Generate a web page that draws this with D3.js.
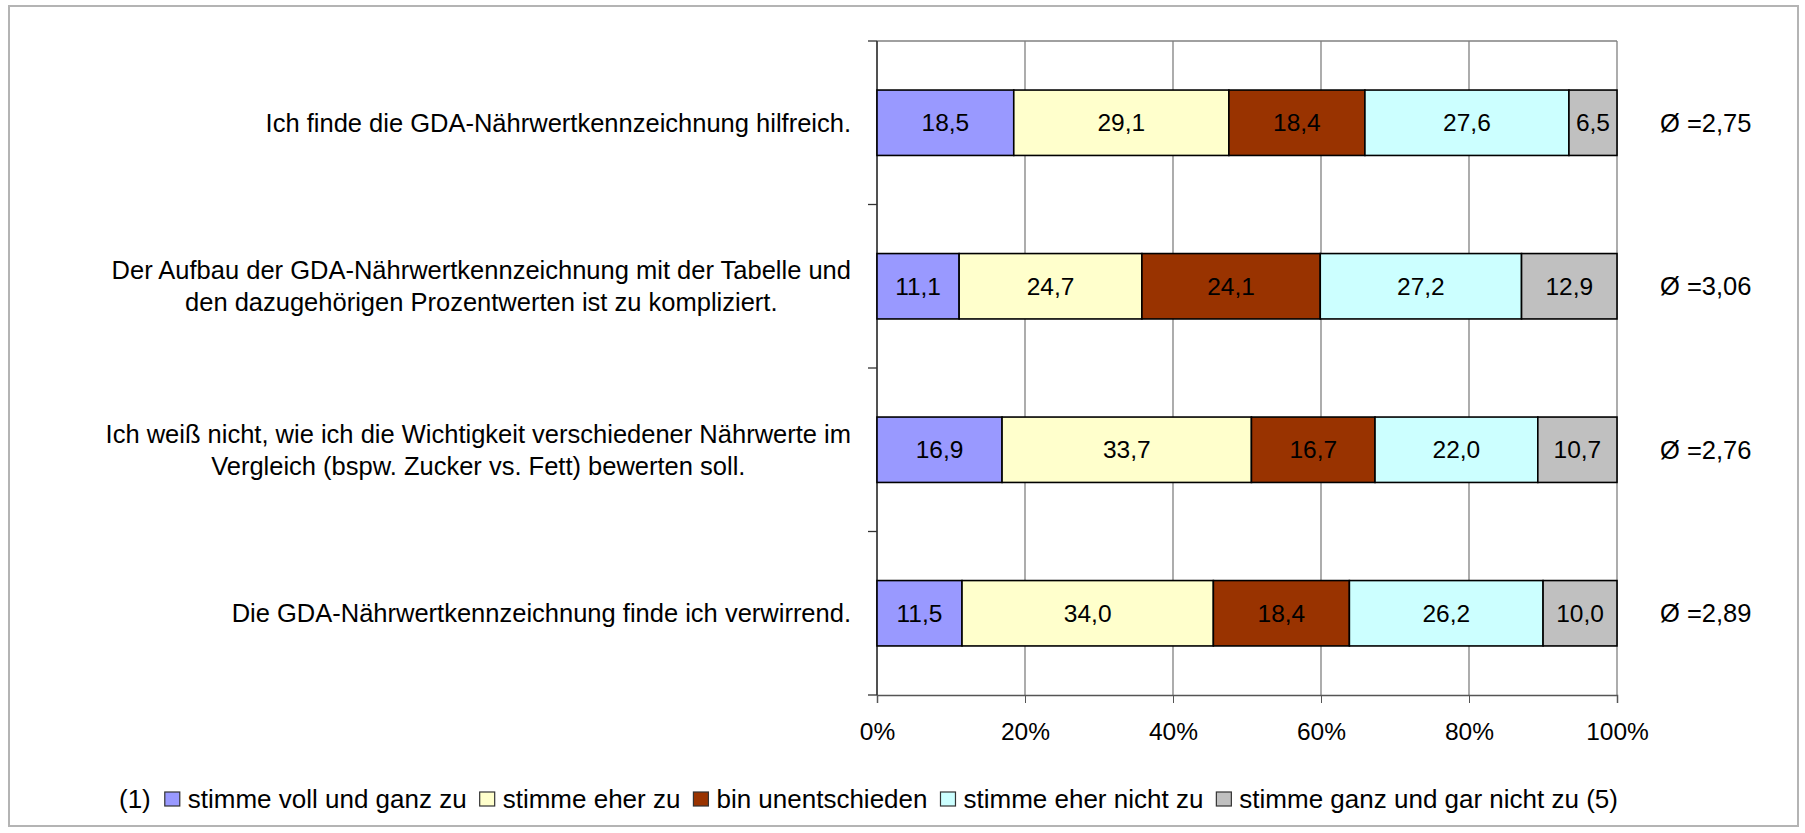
<!DOCTYPE html>
<html>
<head>
<meta charset="utf-8">
<script src="https://cdn.jsdelivr.net/npm/d3@7"></script>
<style>
  body { margin: 0; background: #fff; }
  svg text { font-family: Arial, "Liberation Sans", sans-serif; fill: #000; }
</style>
</head>
<body>
<div class="main"></div>
<script>
// questions (top to bottom), each may wrap into two lines
let questions = [
  ['Ich finde die GDA-Nährwertkennzeichnung hilfreich.'],
  ['Der Aufbau der GDA-Nährwertkennzeichnung mit der Tabelle und', 'den dazugehörigen Prozentwerten ist zu kompliziert.'],
  ['Ich weiß nicht, wie ich die Wichtigkeit verschiedener Nährwerte im', 'Vergleich (bspw. Zucker vs. Fett) bewerten soll.'],
  ['Die GDA-Nährwertkennzeichnung finde ich verwirrend.']
];
let answers = ['stimme voll und ganz zu', 'stimme eher zu', 'bin unentschieden', 'stimme eher nicht zu', 'stimme ganz und gar nicht zu'];
let colors = ['#9999ff', '#ffffcc', '#993300', '#ccffff', '#c0c0c0'];

let voll = [18.5, 11.1, 16.9, 11.5];
let eher = [29.1, 24.7, 33.7, 34.0];
let unent = [18.4, 24.1, 16.7, 18.4];
let eherNicht = [27.6, 27.2, 22.0, 26.2];
let garNicht = [6.5, 12.9, 10.7, 10.0];
let means = [2.75, 3.06, 2.76, 2.89];
let ticks = [0, 0.2, 0.4, 0.6, 0.8, 1];

let W = 1805, H = 833;
let margin = {left: 877, right: 188, top: 41, bottom: 138};
let fs = '24.5px';
let fsText = '25.5px';

let svg = d3.select('.main').append('svg')
  .attr('width', W)
  .attr('height', H);

// outer frame
svg.append('rect')
  .attr('x', 9).attr('y', 6)
  .attr('width', 1789).attr('height', 820)
  .attr('fill', 'none')
  .attr('stroke', '#b4b4b4')
  .attr('stroke-width', 2);

let rows = questions.map((q, i) => ({
  id: i,
  a0: voll[i], a1: eher[i], a2: unent[i], a3: eherNicht[i], a4: garNicht[i]
}));
let keys = ['a0', 'a1', 'a2', 'a3', 'a4'];

let x = d3.scaleLinear().domain([0, 1]).range([margin.left, W - margin.right]);
let y = d3.scaleBand().domain(rows.map(d => d.id))
  .range([margin.top, H - margin.bottom])
  .paddingInner(0.6).paddingOuter(0.3);

let stacked = d3.stack().keys(keys).offset(d3.stackOffsetExpand)(rows);

// gridlines
svg.append('g').selectAll('line').data(ticks).enter().append('line')
  .attr('x1', d => x(d)).attr('x2', d => x(d))
  .attr('y1', margin.top).attr('y2', H - margin.bottom)
  .attr('stroke', '#808080').attr('stroke-width', 1.3);
svg.append('line')
  .attr('x1', x(0)).attr('x2', x(1))
  .attr('y1', margin.top).attr('y2', margin.top)
  .attr('stroke', '#808080').attr('stroke-width', 1.3);

// bottom axis
let xAxis = svg.append('g')
  .attr('transform', `translate(0,${H - margin.bottom})`)
  .call(d3.axisBottom(x).tickValues(ticks).tickFormat(d3.format('.0%')).tickSizeOuter(0).tickSize(8).tickPadding(20));
xAxis.select('.domain').attr('stroke', '#555').attr('stroke-width', 1.5);
xAxis.selectAll('.tick line').attr('stroke', '#555');
xAxis.selectAll('text').style('font-size', fs).attr('fill', '#000');

// left axis with ticks between categories
let bounds = [0, 1, 2, 3, 4].map(i => margin.top + i * y.step());
svg.append('line')
  .attr('x1', x(0)).attr('x2', x(0))
  .attr('y1', margin.top).attr('y2', H - margin.bottom)
  .attr('stroke', '#333').attr('stroke-width', 1.5);
svg.append('g').selectAll('line').data(bounds).enter().append('line')
  .attr('x1', x(0) - 9).attr('x2', x(0))
  .attr('y1', d => d).attr('y2', d => d)
  .attr('stroke', '#333').attr('stroke-width', 1.3);

// bars
let series = svg.append('g').selectAll('g').data(stacked).enter().append('g')
  .attr('fill', (d, i) => colors[i]);
series.selectAll('rect').data(d => d).enter().append('rect')
  .attr('x', d => x(d[0]))
  .attr('y', d => y(d.data.id))
  .attr('width', d => x(d[1]) - x(d[0]))
  .attr('height', y.bandwidth())
  .attr('stroke', '#000')
  .attr('stroke-width', 1.6);

let fmt = v => d3.format('.1f')(v).replace('.', ',');
series.each(function(s) {
  d3.select(this).selectAll('text').data(s).enter().append('text')
    .attr('x', d => (x(d[0]) + x(d[1])) / 2)
    .attr('y', d => y(d.data.id) + y.bandwidth() / 2)
    .attr('dy', '0.35em')
    .attr('text-anchor', 'middle')
    .style('font-size', fs)
    .text(d => fmt(d.data[s.key]));
});

// category labels: block right-aligned, lines centred inside the block
let labelRight = 851;
let labels = svg.append('g').selectAll('text').data(questions).enter().append('text')
  .attr('text-anchor', 'middle')
  .style('font-size', fsText)
  .attr('transform', (d, i) => `translate(0,${y(i) + y.bandwidth() / 2})`);
labels.selectAll('tspan').data(d => d.map((t, j) => ({t: t, j: j, n: d.length}))).enter().append('tspan')
  .attr('y', d => (d.j - (d.n - 1) / 2) * 32)
  .attr('dy', '0.35em')
  .text(d => d.t);
labels.each(function() {
  let spans = d3.select(this).selectAll('tspan');
  let widest = d3.max(spans.nodes(), n => n.getComputedTextLength());
  spans.attr('x', labelRight - widest / 2);
});

// means
svg.append('g').selectAll('text').data(means).enter().append('text')
  .attr('x', 1660)
  .attr('y', (d, i) => y(i) + y.bandwidth() / 2)
  .attr('dy', '0.35em')
  .style('font-size', fsText)
  .text(d => 'Ø =' + d3.format('.2f')(d).replace('.', ','));

// legend
let legend = svg.append('g').attr('transform', 'translate(119,799)');
let cx = 0;
let t0 = legend.append('text').attr('x', cx).attr('dy', '0.35em').style('font-size', '26px').text('(1)');
cx += t0.node().getComputedTextLength() + 14;
answers.forEach((a, i) => {
  legend.append('rect')
    .attr('x', cx).attr('y', -7)
    .attr('width', 15).attr('height', 14)
    .attr('fill', colors[i])
    .attr('stroke', '#333').attr('stroke-width', 1.2);
  cx += 23;
  let label = i === answers.length - 1 ? a + ' (5)' : a;
  let t = legend.append('text').attr('x', cx).attr('dy', '0.35em').style('font-size', '26px').text(label);
  cx += t.node().getComputedTextLength() + 13;
});
</script>
</body>
</html>
